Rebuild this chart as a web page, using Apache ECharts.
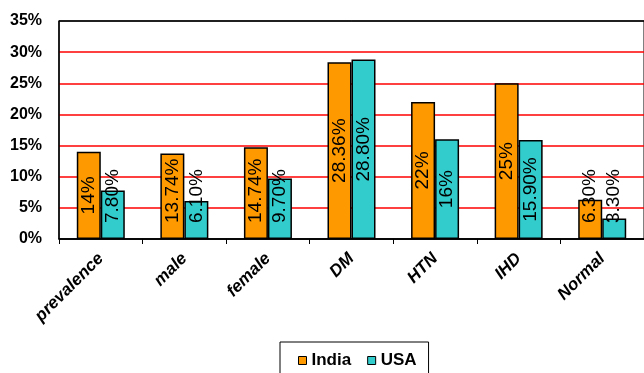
<!DOCTYPE html>
<html>
<head>
<meta charset="utf-8">
<script src="https://cdn.jsdelivr.net/npm/echarts@6/dist/echarts.min.js"></script>
<style>
  html, body { margin: 0; padding: 0; background: #fff; }
  #chart { width: 644px; height: 373px; }
</style>
</head>
<body>
<div id="chart"></div>
<script>
// categories and values
const categories = ['prevalence', 'male', 'female', 'DM', 'HTN', 'IHD', 'Normal'];
const india = [14, 13.74, 14.74, 28.36, 22, 25, 6.3];
const usa = [7.8, 6.1, 9.7, 28.8, 16, 15.9, 3.3];
const indiaLabels = ['14%', '13.74%', '14.74%', '28.36%', '22%', '25%', '6.30%'];
const usaLabels = ['7.80%', '6.10%', '9.70%', '28.80%', '16%', '15.90%', '3.30%'];
const yTicks = [0, 5, 10, 15, 20, 25, 30, 35];

const labelFont = {
  color: '#000',
  fontSize: 19,
  fontFamily: "'Liberation Sans', Arial, sans-serif"
};

// Excel-like centre labels, pushed up when they would hang below the bar
function barData (values, labels) {
  return values.map((v, i) => {
    const barH = v * 218 / 35;
    const textLen = labels[i].length * 10.5;
    const low = barH / 2 - textLen / 2 < 16;
    return {
      value: v,
      label: low
        ? { position: 'insideBottom', distance: 16, align: 'left', verticalAlign: 'middle' }
        : { position: 'inside' }
    };
  });
}

function makeSeries (name, values, labels, color) {
  return {
    name: name,
    type: 'bar',
    barWidth: 24,
    barGap: '0%',
    data: barData(values, labels),
    itemStyle: { color: color, borderColor: '#000', borderWidth: 1.5 },
    label: Object.assign({
      show: true,
      rotate: 90,
      formatter: p => labels[p.dataIndex]
    }, labelFont)
  };
}

const chart = echarts.init(document.getElementById('chart'));
chart.setOption({
  animation: false,
  grid: {
    left: 59, right: -6, top: 21, bottom: 134,
    show: true, borderColor: '#000', borderWidth: 1
  },
  legend: {
    bottom: -20,
    left: 280,
    data: ['India', 'USA'],
    itemWidth: 8,
    itemHeight: 8,
    itemGap: 16,
    icon: 'rect',
    borderColor: '#000',
    borderWidth: 1,
    padding: [10, 12, 24, 18],
    itemStyle: { borderColor: '#000', borderWidth: 1 },
    textStyle: { color: '#000', fontSize: 17, fontWeight: 'bold', fontFamily: "'Liberation Sans', Arial, sans-serif" }
  },
  xAxis: {
    type: 'category',
    data: categories,
    axisLine: { lineStyle: { color: '#000', width: 1.5 } },
    axisTick: { show: true, length: 5, lineStyle: { color: '#000' } },
    axisLabel: {
      interval: 0,
      rotate: 45,
      margin: 17,
      color: '#000',
      fontSize: 17,
      fontWeight: 'bold',
      fontStyle: 'italic',
      fontFamily: "'Liberation Sans', Arial, sans-serif"
    }
  },
  yAxis: {
    type: 'value',
    min: yTicks[0],
    max: yTicks[yTicks.length - 1],
    interval: 5,
    axisLine: { show: true, lineStyle: { color: '#000', width: 1.5 } },
    axisTick: { show: false },
    axisLabel: {
      margin: 17,
      color: '#000',
      fontSize: 16,
      fontWeight: 'bold',
      fontFamily: "'Liberation Sans', Arial, sans-serif",
      formatter: v => v + '%'
    },
    splitLine: {
      lineStyle: {
        color: ['#000', '#ff0000', '#ff0000', '#ff0000', '#ff0000', '#ff0000', '#ff0000', '#000'],
        width: 1.5
      }
    }
  },
  series: [
    makeSeries('India', india, indiaLabels, '#ff9900'),
    makeSeries('USA', usa, usaLabels, '#33cccc')
  ]
});
</script>
</body>
</html>
